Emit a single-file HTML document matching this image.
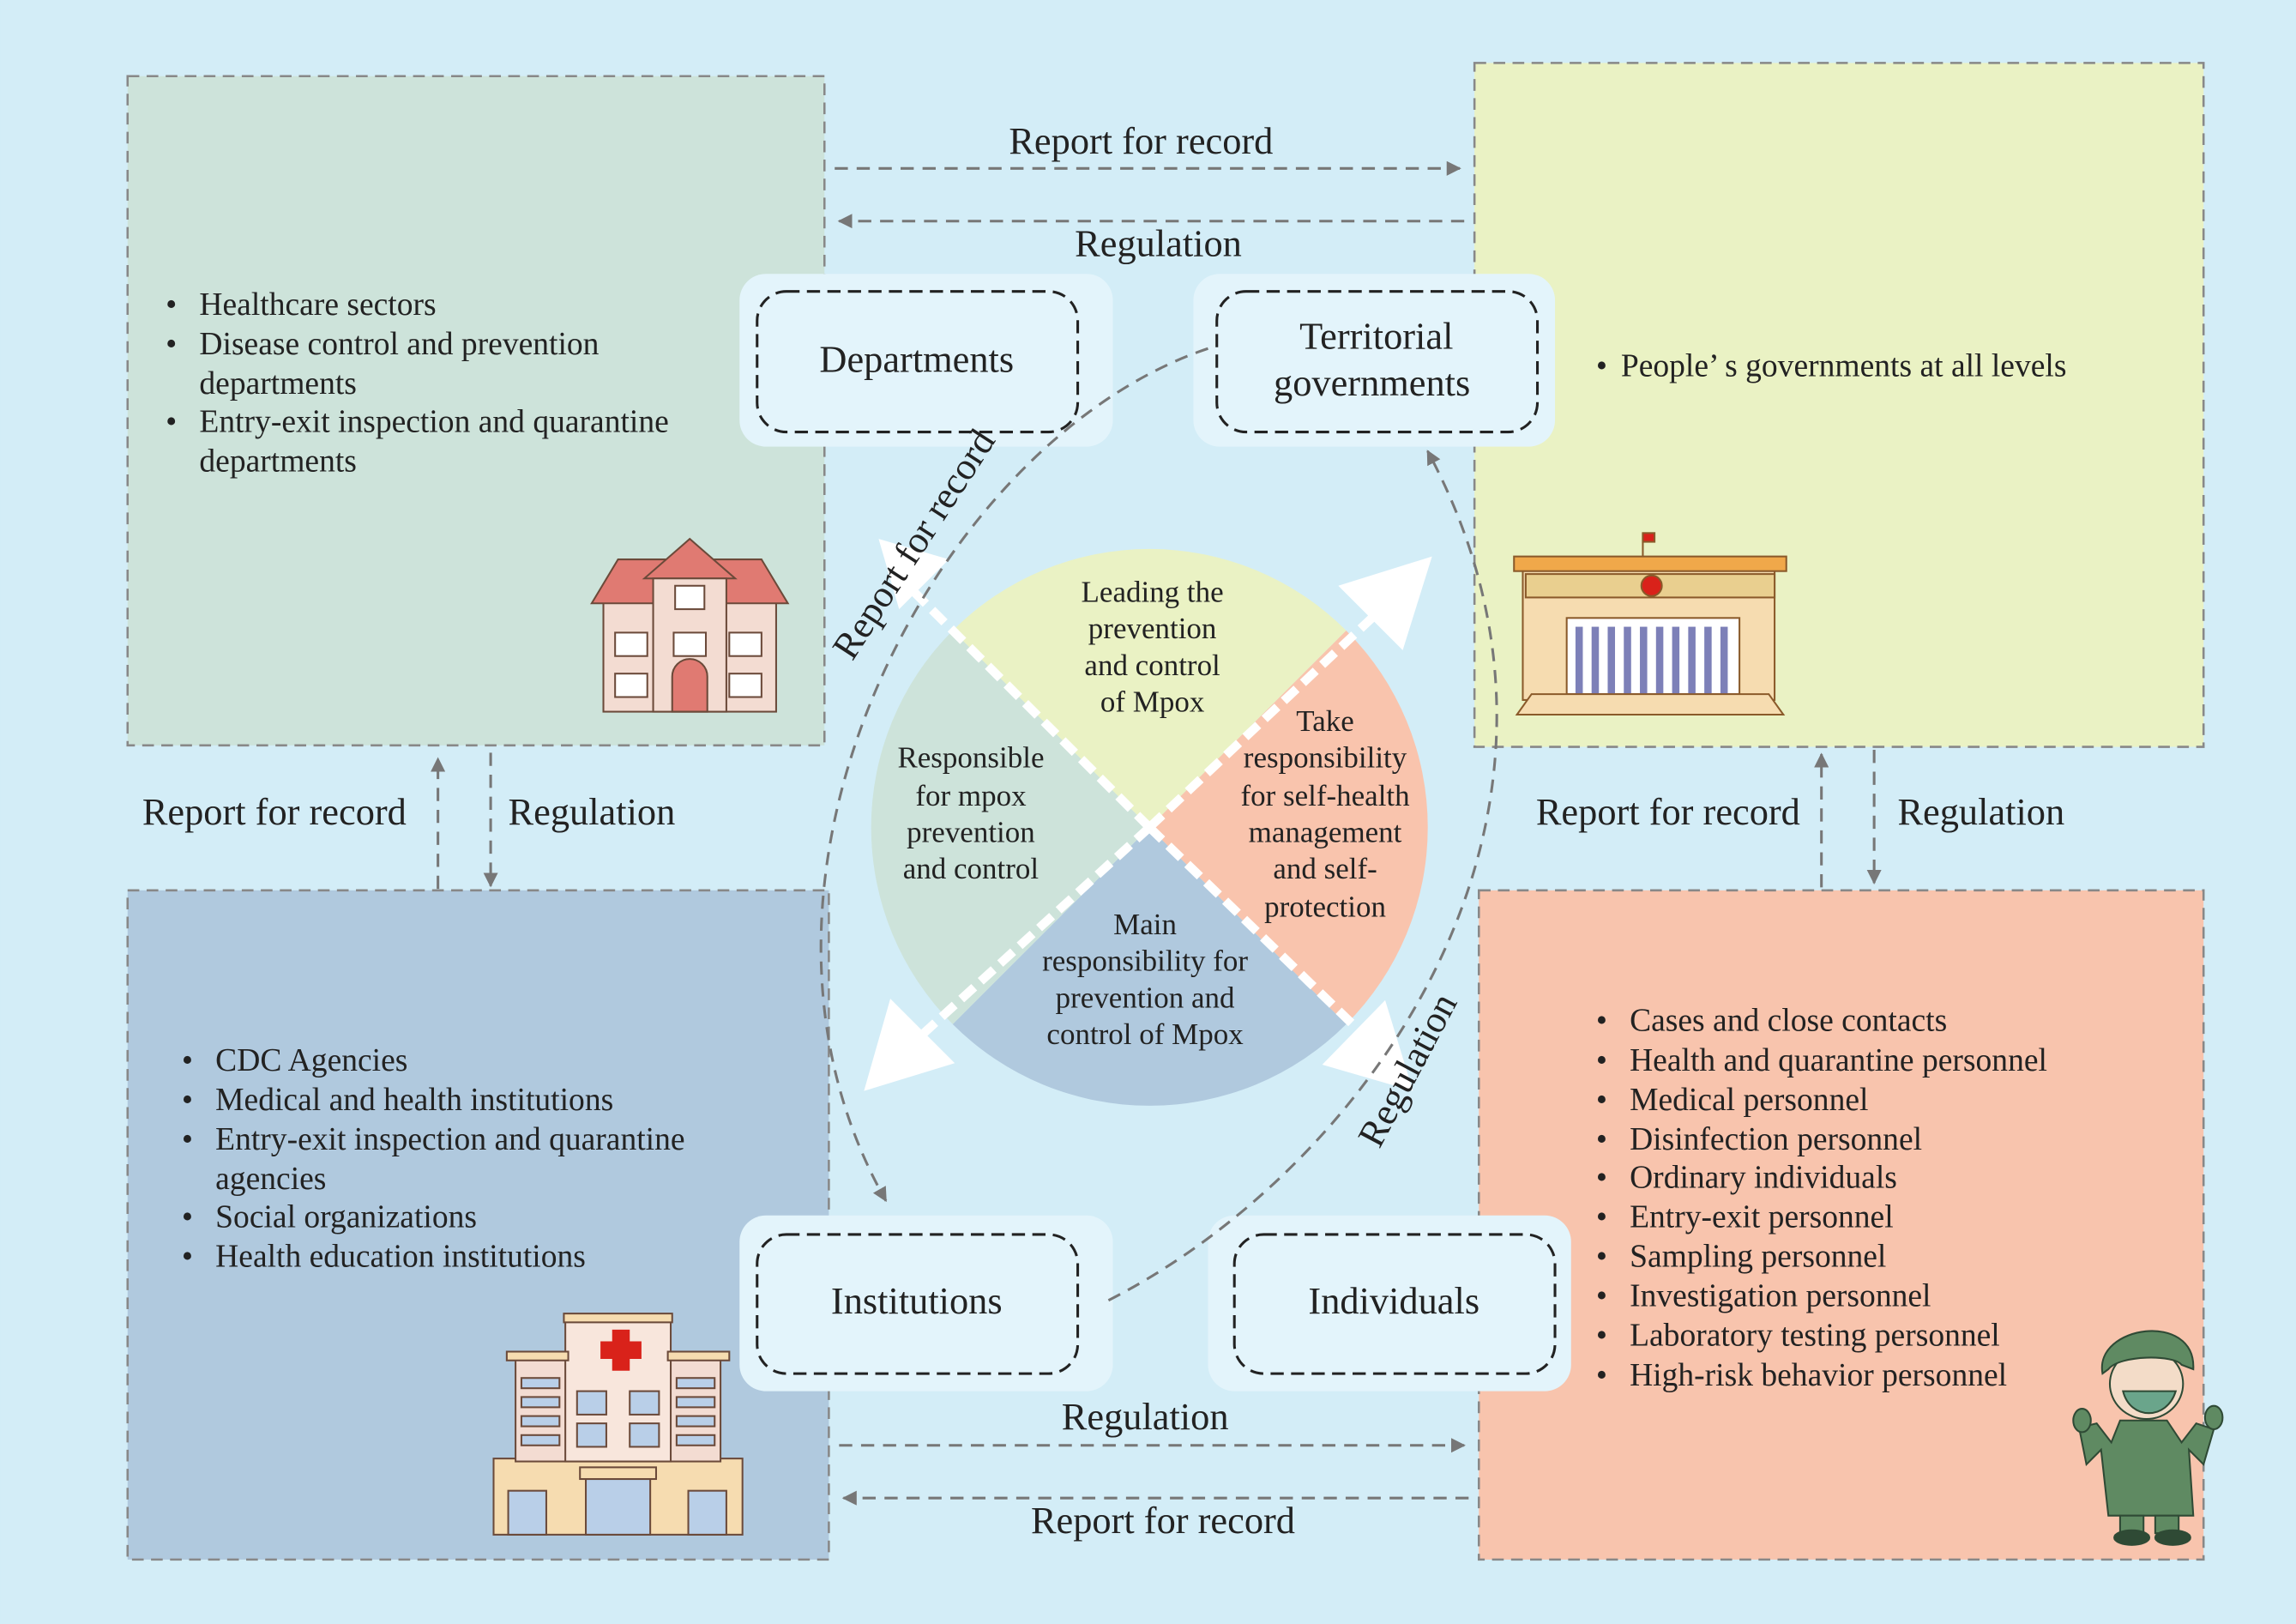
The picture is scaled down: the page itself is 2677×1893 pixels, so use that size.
<!DOCTYPE html>
<html><head><meta charset="utf-8"><style>
html,body{margin:0;padding:0;background:#d3edf7;}
svg{display:block;}
text{font-family:"Liberation Serif",serif;fill:#222;}
</style></head><body>
<svg width="2677" height="1893" viewBox="0 0 1568 1109" xmlns="http://www.w3.org/2000/svg">
<defs>
<marker id="ah" markerWidth="10" markerHeight="10" refX="9" refY="5" orient="auto" markerUnits="userSpaceOnUse"><path d="M0,0 L10,5 L0,10 Z" fill="#777"/></marker>
</defs>
<rect width="1568" height="1109" fill="#d3edf7"/>
<g stroke="#888" stroke-width="1.5" stroke-dasharray="8,5">
<rect x="87" y="52" width="476" height="457" fill="#cde3da"/>
<rect x="1007" y="43" width="498" height="467" fill="#eaf2c4"/>
<rect x="87" y="608" width="479" height="457" fill="#b0c9de"/>
<rect x="1010" y="608" width="495" height="457" fill="#f8c4ad"/>
</g>
<g fill="#e3f4fb">
<rect x="505" y="187" width="255" height="118" rx="18"/>
<rect x="815" y="187" width="247" height="118" rx="18"/>
<rect x="505" y="830" width="255" height="120" rx="18"/>
<rect x="825" y="830" width="248" height="120" rx="18"/>
</g>
<g fill="none" stroke="#222" stroke-width="1.8" stroke-dasharray="9,5">
<rect x="517" y="199" width="219" height="96" rx="20"/>
<rect x="831" y="199" width="219" height="96" rx="20"/>
<rect x="517" y="843" width="219" height="95" rx="20"/>
<rect x="843" y="843" width="219" height="95" rx="20"/>
</g>
<g font-size="26" text-anchor="middle">
<text x="626" y="254">Departments</text>
<text x="940" y="238">Territorial</text>
<text x="937" y="270">governments</text>
<text x="626" y="897">Institutions</text>
<text x="952" y="897">Individuals</text>
</g>
<path d="M785,565 L650.6,430.6 A190,190 0 0 1 919.4,430.6 Z" fill="#eaf2c4"/>
<path d="M785,565 L919.4,430.6 A190,190 0 0 1 919.4,699.4 Z" fill="#f9c4ad"/>
<path d="M785,565 L919.4,699.4 A190,190 0 0 1 650.6,699.4 Z" fill="#b0c9de"/>
<path d="M785,565 L650.6,699.4 A190,190 0 0 1 650.6,430.6 Z" fill="#cde3da"/>
<g stroke="#fff" stroke-width="6" stroke-dasharray="12,6">
<line x1="785" y1="565" x2="620" y2="400"/>
<line x1="785" y1="565" x2="955" y2="405"/>
<line x1="785" y1="565" x2="615" y2="720"/>
<line x1="785" y1="565" x2="945" y2="720"/>
</g>
<g fill="#fff">
<path d="M600,368 L648,382 L614,416 Z"/>
<path d="M978,380 L958,444 L914,400 Z"/>
<path d="M590,745 L608,682 L652,726 Z"/>
<path d="M965,745 L903,727 L946,683 Z"/>
</g>
<g font-size="20.5" text-anchor="middle">
<text x="787" y="411">Leading the</text><text x="787" y="436">prevention</text><text x="787" y="461">and control</text><text x="787" y="486">of Mpox</text>
<text x="663" y="524">Responsible</text><text x="663" y="550">for mpox</text><text x="663" y="575">prevention</text><text x="663" y="600">and control</text>
<text x="905" y="499">Take</text><text x="905" y="524">responsibility</text><text x="905" y="550">for self-health</text><text x="905" y="575">management</text><text x="905" y="600">and self-</text><text x="905" y="626">protection</text>
<text x="782" y="638">Main</text><text x="782" y="663">responsibility for</text><text x="782" y="688">prevention and</text><text x="782" y="713">control of Mpox</text>
</g>
<g fill="none" stroke="#777" stroke-width="1.8" stroke-dasharray="9,6">
<path d="M825,238 C640,300 480,600 605,820" marker-end="url(#ah)"/>
<path d="M757,888 C930,800 1110,560 975,308" marker-end="url(#ah)"/>
<path d="M570,115 L997,115" marker-end="url(#ah)"/>
<path d="M1000,151 L573,151" marker-end="url(#ah)"/>
<path d="M573,987 L1000,987" marker-end="url(#ah)"/>
<path d="M1003,1023 L576,1023" marker-end="url(#ah)"/>
<path d="M299,607 L299,518" marker-end="url(#ah)"/>
<path d="M335,514 L335,605" marker-end="url(#ah)"/>
<path d="M1244,606 L1244,515" marker-end="url(#ah)"/>
<path d="M1280,512 L1280,603" marker-end="url(#ah)"/>
</g>
<g font-size="26">
<text x="689" y="105">Report for record</text>
<text x="734" y="175">Regulation</text>
<text x="725" y="976">Regulation</text>
<text x="704" y="1047">Report for record</text>
<text x="97" y="563">Report for record</text>
<text x="347" y="563">Regulation</text>
<text x="1049" y="563">Report for record</text>
<text x="1296" y="563">Regulation</text>
<text transform="translate(582,452) rotate(-57)">Report for record</text>
<text transform="translate(942,785) rotate(-62)">Regulation</text>
</g>
<g font-size="22">
<text x="113" y="215">•</text><text x="136" y="215">Healthcare sectors</text>
<text x="113" y="242">•</text><text x="136" y="242">Disease control and prevention</text>
<text x="136" y="269">departments</text>
<text x="113" y="295">•</text><text x="136" y="295">Entry-exit inspection and quarantine</text>
<text x="136" y="322">departments</text>
<text x="1090" y="257">•</text><text x="1107" y="257">People’ s governments at all levels</text>
<text x="124" y="731">•</text><text x="147" y="731">CDC Agencies</text>
<text x="124" y="758">•</text><text x="147" y="758">Medical and health institutions</text>
<text x="124" y="785">•</text><text x="147" y="785">Entry-exit inspection and quarantine</text>
<text x="147" y="812">agencies</text>
<text x="124" y="838">•</text><text x="147" y="838">Social organizations</text>
<text x="124" y="865">•</text><text x="147" y="865">Health education institutions</text>
<text x="1090" y="704">•</text><text x="1113" y="704">Cases and close contacts</text>
<text x="1090" y="731">•</text><text x="1113" y="731">Health and quarantine personnel</text>
<text x="1090" y="758">•</text><text x="1113" y="758">Medical personnel</text>
<text x="1090" y="785">•</text><text x="1113" y="785">Disinfection personnel</text>
<text x="1090" y="811">•</text><text x="1113" y="811">Ordinary individuals</text>
<text x="1090" y="838">•</text><text x="1113" y="838">Entry-exit personnel</text>
<text x="1090" y="865">•</text><text x="1113" y="865">Sampling personnel</text>
<text x="1090" y="892">•</text><text x="1113" y="892">Investigation personnel</text>
<text x="1090" y="919">•</text><text x="1113" y="919">Laboratory testing personnel</text>
<text x="1090" y="946">•</text><text x="1113" y="946">High-risk behavior personnel</text>
</g>
<g stroke="#6b4a3a" stroke-width="1.2">
<rect x="412" y="410" width="118" height="76" fill="#f3dcd2"/>
<path d="M404,412 L422,382 L520,382 L538,412 Z" fill="#e07a72"/>
<path d="M440,395 L471,368 L502,395 Z" fill="#e07a72"/>
<rect x="446" y="395" width="50" height="91" fill="#f3dcd2"/>
<rect x="461" y="400" width="20" height="16" fill="#fff"/>
<rect x="420" y="432" width="22" height="16" fill="#fff"/><rect x="498" y="432" width="22" height="16" fill="#fff"/>
<rect x="460" y="432" width="22" height="16" fill="#fff"/>
<rect x="420" y="460" width="22" height="16" fill="#fff"/><rect x="498" y="460" width="22" height="16" fill="#fff"/>
<path d="M459,486 L459,462 A12,12 0 0 1 483,462 L483,486 Z" fill="#e07a72"/>
</g>
<g stroke="#8a5a2a" stroke-width="1.2">
<rect x="1040" y="388" width="172" height="90" fill="#f6dcb0"/>
<rect x="1034" y="380" width="186" height="10" fill="#f0a84a"/>
<rect x="1042" y="392" width="170" height="16" fill="#e9cf8f"/>
<rect x="1070" y="422" width="118" height="52" fill="#fff"/>
<g fill="#7d80b8" stroke="none">
<rect x="1076" y="428" width="5" height="46"/><rect x="1087" y="428" width="5" height="46"/><rect x="1098" y="428" width="5" height="46"/><rect x="1109" y="428" width="5" height="46"/><rect x="1120" y="428" width="5" height="46"/><rect x="1131" y="428" width="5" height="46"/><rect x="1142" y="428" width="5" height="46"/><rect x="1153" y="428" width="5" height="46"/><rect x="1164" y="428" width="5" height="46"/><rect x="1175" y="428" width="5" height="46"/>
</g>
<path d="M1036,488 L1046,474 L1208,474 L1218,488 Z" fill="#f6dcb0"/>
<circle cx="1128" cy="400" r="7" fill="#d9221a"/>
<line x1="1122" y1="380" x2="1122" y2="364"/><rect x="1122" y="364" width="8" height="6" fill="#d9221a"/>
</g>
<g stroke="#6b4a3a" stroke-width="1.2">
<rect x="337" y="996" width="170" height="52" fill="#f6dcb0"/>
<rect x="352" y="926" width="140" height="72" fill="#f3dcd2"/>
<rect x="386" y="898" width="72" height="100" fill="#f8e6dc"/>
<rect x="385" y="897" width="74" height="6" fill="#f6dcb0"/>
<rect x="346" y="923" width="42" height="6" fill="#f6dcb0"/><rect x="456" y="923" width="42" height="6" fill="#f6dcb0"/>
<g fill="#b9cfe8">
<rect x="356" y="941" width="26" height="7"/><rect x="356" y="954" width="26" height="7"/><rect x="356" y="967" width="26" height="7"/><rect x="356" y="980" width="26" height="7"/>
<rect x="462" y="941" width="26" height="7"/><rect x="462" y="954" width="26" height="7"/><rect x="462" y="967" width="26" height="7"/><rect x="462" y="980" width="26" height="7"/>
<rect x="394" y="950" width="20" height="16"/><rect x="430" y="950" width="20" height="16"/>
<rect x="394" y="972" width="20" height="16"/><rect x="430" y="972" width="20" height="16"/>
<rect x="400" y="1010" width="44" height="38"/>
<rect x="347" y="1018" width="26" height="30"/><rect x="470" y="1018" width="26" height="30"/>
</g>
<rect x="396" y="1002" width="52" height="8" fill="#f6dcb0"/>
</g>
<path d="M418,908 h12 v8 h8 v12 h-8 v8 h-12 v-8 h-8 v-12 h8 Z" fill="#d9221a"/>
<g stroke="#2f4a35" stroke-width="1.2">
<path d="M1435,990 L1425,1000 L1420,975 L1432,972 L1442,985 L1448,970 L1480,970 L1490,985 L1500,972 L1512,976 L1505,1000 L1495,990 L1498,1035 L1440,1035 Z" fill="#5f8a62"/>
<rect x="1448" y="1035" width="16" height="12" fill="#5f8a62"/><rect x="1472" y="1035" width="16" height="12" fill="#5f8a62"/>
<ellipse cx="1456" cy="1050" rx="12" ry="5" fill="#2f4a35"/><ellipse cx="1484" cy="1050" rx="12" ry="5" fill="#2f4a35"/>
<ellipse cx="1466" cy="945" rx="25" ry="24" fill="#f3dcc8"/>
<path d="M1436,938 C1430,905 1500,895 1498,935 L1490,932 C1485,925 1448,925 1440,935 Z" fill="#5f8a62"/>
<path d="M1450,950 C1455,970 1480,970 1486,950 Z" fill="#6aa58b"/>
<ellipse cx="1422" cy="970" rx="6" ry="8" fill="#5f8a62"/><ellipse cx="1512" cy="968" rx="6" ry="8" fill="#5f8a62"/>
</g>
</svg>
</body></html>
